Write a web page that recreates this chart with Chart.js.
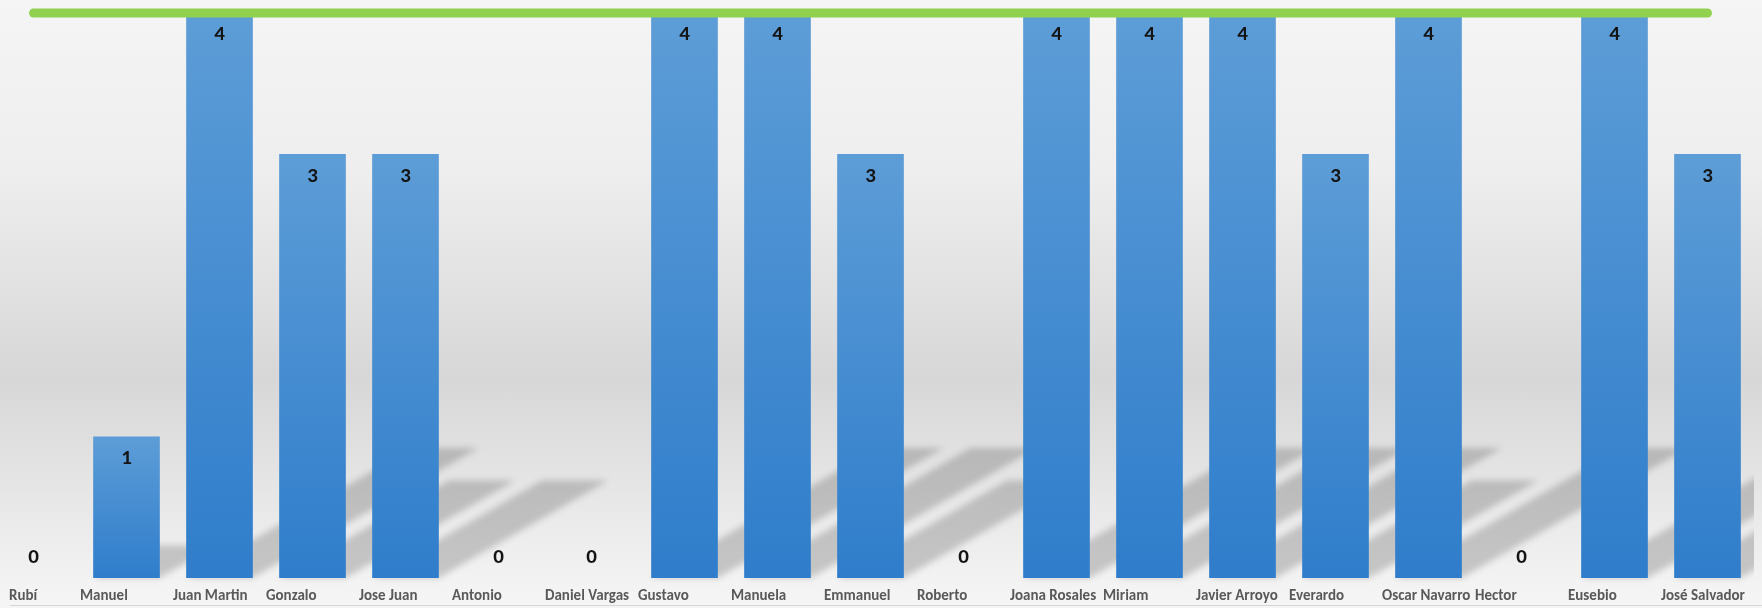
<!DOCTYPE html>
<html>
<head>
<meta charset="utf-8">
<script src="https://cdn.jsdelivr.net/npm/chart.js@4.4.1/dist/chart.umd.min.js"></script>
<style>
  html, body { margin: 0; padding: 0; }
  body {
    width: 1762px; height: 608px; overflow: hidden; position: relative;
    background: linear-gradient(180deg, #f5f5f5 0%, #eeeeee 28%, #e1e1e1 48%, #d7d7d7 62%, #e2e2e2 76%, #eeeeee 90%, #f6f6f6 100%);
  }
  #wrap { position: absolute; left: -13px; top: 0; width: 1767px; height: 608px; }
  #bottomLine { position: absolute; left: 10px; right: 0; top: 605px; height: 1px; background: #d6d6d6; }
</style>
</head>
<body>
<div id="wrap"><canvas id="chart"></canvas></div>
<div id="bottomLine"></div>
<script>
const categories = ['Rubí', 'Manuel', 'Juan Martin', 'Gonzalo', 'Jose Juan', 'Antonio', 'Daniel Vargas',
  'Gustavo', 'Manuela', 'Emmanuel', 'Roberto', 'Joana Rosales', 'Miriam', 'Javier Arroyo',
  'Everardo', 'Oscar Navarro', 'Hector', 'Eusebio', 'José Salvador'];
const scores = [0, 1, 4, 3, 3, 0, 0, 4, 4, 3, 0, 4, 4, 4, 3, 4, 0, 4, 3];
const targetLine = [4, 4, 4, 4, 4, 4, 4, 4, 4, 4, 4, 4, 4, 4, 4, 4, 4, 4, 4];
const yMin = 0;
const yMax = 4;

const labelFont = 'bold 15px Carlito, Calibri, "Liberation Sans", sans-serif';
const valueFont = 'bold 21px Carlito, Calibri, "Liberation Sans", sans-serif';
const BAR_SET = 1; // index of the bar dataset

// gradient per bar, light at the top, deeper blue at the base
function barFill(c) {
  const fallback = '#4a8fd3';
  if (c.type !== 'data') return fallback;
  if (!c.raw) return 'rgba(0,0,0,0)'; // zero bars draw nothing
  const y = c.chart.scales.y;
  if (!y) return fallback;
  const top = y.getPixelForValue(c.raw);
  const base = y.getPixelForValue(0);
  if (!isFinite(top) || !isFinite(base) || top === base) return fallback;
  const g = c.chart.ctx.createLinearGradient(0, top, 0, base);
  g.addColorStop(0, '#5d9dd7');
  g.addColorStop(1, '#2f7dcb');
  return g;
}

// perspective shadow behind each bar
const barShadows = {
  id: 'barShadows',
  beforeDatasetsDraw(chart) {
    const meta = chart.getDatasetMeta(BAR_SET);
    const ctx = chart.ctx;
    ctx.save();
    ctx.beginPath();
    meta.data.forEach(bar => {
      const h = bar.base - bar.y;
      if (!(h > 0)) return;
      const l = bar.x - bar.width / 2, r = bar.x + bar.width / 2;
      const dx = h * 0.4, dy = h * 0.23;
      ctx.moveTo(l, bar.base);
      ctx.lineTo(r, bar.base);
      ctx.lineTo(r + dx, bar.base - dy);
      ctx.lineTo(l + dx, bar.base - dy);
      ctx.closePath();
    });
    ctx.filter = 'blur(3px)';
    ctx.fillStyle = 'rgba(0,0,0,0.18)';
    ctx.fill();
    ctx.restore();
  }
};

// numbers inside the top of each bar, zero values sit above the axis
const valueLabels = {
  id: 'valueLabels',
  afterDatasetsDraw(chart) {
    const meta = chart.getDatasetMeta(BAR_SET);
    const ctx = chart.ctx;
    ctx.save();
    ctx.font = valueFont;
    ctx.fillStyle = '#141414';
    ctx.textAlign = 'center';
    ctx.textBaseline = 'middle';
    meta.data.forEach((bar, i) => {
      const v = scores[i];
      const y = v > 0 ? bar.y + 22 : bar.base - 20;
      ctx.fillText(String(v), bar.x, y);
    });
    ctx.restore();
  }
};

// category names, left aligned to their slot like the original
const categoryLabels = {
  id: 'categoryLabels',
  afterDraw(chart) {
    const x = chart.scales.x;
    const step = x.getPixelForValue(1) - x.getPixelForValue(0);
    const ctx = chart.ctx;
    ctx.save();
    ctx.font = labelFont;
    ctx.fillStyle = '#595959';
    ctx.textAlign = 'left';
    ctx.textBaseline = 'middle';
    categories.forEach((name, i) => {
      const left = Math.max(x.getPixelForValue(i) - step / 2, 22);
      ctx.fillText(name, left, chart.chartArea.bottom + 18);
    });
    ctx.restore();
  }
};

new Chart(document.getElementById('chart'), {
  data: {
    labels: categories,
    datasets: [
      {
        type: 'line',
        data: targetLine,
        borderColor: '#92d050',
        borderWidth: 9,
        borderCapStyle: 'round',
        pointRadius: 0,
        tension: 0,
        clip: false,
        order: 0
      },
      {
        type: 'bar',
        data: scores,
        backgroundColor: barFill,
        barThickness: 66,
        borderWidth: 0,
        order: 1
      }
    ]
  },
  options: {
    responsive: true,
    maintainAspectRatio: false,
    animation: false,
    layout: { padding: { top: 13, bottom: 30, left: 0, right: 0 } },
    plugins: { legend: { display: false }, tooltip: { enabled: false } },
    scales: {
      x: { display: false, offset: true },
      y: { display: false, min: yMin, max: yMax }
    }
  },
  plugins: [barShadows, valueLabels, categoryLabels]
});
</script>
</body>
</html>
